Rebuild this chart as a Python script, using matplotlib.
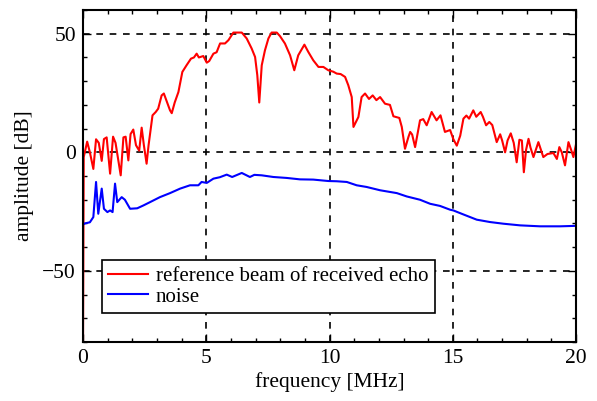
# Echo spectrum vs noise floor
import matplotlib
matplotlib.use('Agg')
import matplotlib.pyplot as plt
from matplotlib.ticker import MultipleLocator

# reference beam of received echo (frequency in MHz, amplitude in dB)
echo_freq = [0.0, 0.03, 0.17, 0.28, 0.42, 0.53, 0.64, 0.76, 0.85, 0.96, 1.1, 1.22, 1.32,
             1.53, 1.64, 1.73, 1.84, 1.93, 2.04, 2.15, 2.28, 2.38, 2.47, 2.58, 2.66, 2.82,
             2.95, 3.05, 3.19, 3.28, 3.38, 3.53, 3.6, 3.72, 3.87, 4.03, 4.2, 4.38, 4.5,
             4.61, 4.7, 4.88, 5.02, 5.12, 5.29, 5.42, 5.56, 5.76, 5.9, 6.1, 6.25, 6.44,
             6.64, 6.84, 6.98, 7.07, 7.15, 7.25, 7.38, 7.52, 7.65, 7.86, 7.99, 8.19, 8.4,
             8.57, 8.73, 8.98, 9.14, 9.34, 9.55, 9.75, 9.95, 10.15, 10.29, 10.45, 10.63,
             10.76, 10.9, 10.97, 11.17, 11.3, 11.44, 11.6, 11.75, 11.9, 12.05, 12.25,
             12.45, 12.59, 12.83, 12.93, 13.06, 13.2, 13.27, 13.35, 13.47, 13.67, 13.8,
             13.94, 14.14, 14.34, 14.5, 14.68, 14.89, 15.02, 15.16, 15.3, 15.43, 15.55,
             15.66, 15.83, 15.95, 16.13, 16.22, 16.35, 16.48, 16.6, 16.78, 16.92, 17.0,
             17.12, 17.22, 17.35, 17.47, 17.59, 17.7, 17.8, 17.88, 17.97, 18.07, 18.15,
             18.27, 18.47, 18.67, 18.84, 19.08, 19.22, 19.32, 19.42, 19.55, 19.69, 19.8,
             19.89, 20.0]
echo_db = [-85, -2, 4.5, 0, -7, 5.5, 4, -3.6, 5.6, 6.3, -9, 6.6, 4,
           -9.7, 6.3, 6.6, -3.4, 7.7, 9.6, 3, 0.7, 10.4, 3, -4.8, 3, 15.6,
           17, 18.4, 24, 24.8, 22, 17.7, 16.5, 21, 25.4, 33.9, 36.7, 39.5, 40,
           41.6, 40, 40.6, 37.8, 38.5, 41.6, 42.2, 45.9, 45.9, 47.3, 50.5, 50.5, 50.5,
           48, 43.8, 40.2, 32.5, 21, 36.7, 43, 48, 50.5, 50.5, 49, 45.9, 40.9,
           34.6, 40.9, 45.4, 42.3, 38.8, 36, 36, 34.6, 34, 33.2, 33, 31.8,
           28.3, 23.3, 10.7, 14.9, 23.3, 24.8, 22.5, 24, 22, 23.3, 20.5,
           20, 15.2, 14.5, 10.7, 1.5, 6.5, 8.6, 7.5, 2.2, 13.5, 14,
           11.4, 17, 13.5, 15.6, 8.6, 9.4, 5.6, 2.8, 7, 14.2, 15.5,
           14.2, 17.7, 15, 17, 15, 11.4, 12.8, 11.5, 4.3, 7.6, 5,
           0, 5, 8, 4, -4.2, 5.3, 5, -8.4, 1, 5.7, 2,
           -2, 4.3, -2, -0.7, -0.3, -2.8, 2.2, 0, -5.5, 4.3, 1,
           -2, 3.6]

# noise
noise_freq = [0.0, 0.07, 0.28, 0.42, 0.53, 0.62, 0.76, 0.85, 0.99, 1.1, 1.2, 1.3, 1.39,
              1.57, 1.7, 1.91, 2.2, 2.45, 2.72, 3.12, 3.53, 3.94, 4.34, 4.68, 4.81, 5.02,
              5.29, 5.55, 5.83, 6.05, 6.44, 6.77, 6.95, 7.25, 7.72, 8.26, 8.8, 9.34, 9.95,
              10.29, 10.7, 11.1, 11.5, 12.05, 12.73, 13.13, 13.67, 14.08, 14.48, 14.89,
              15.02, 15.43, 15.97, 16.51, 17.05, 17.73, 18.54, 19.35, 20.0]
noise_db = [-30.5, -30, -29.5, -27.3, -12.5, -25.9, -15.3, -23.8, -25.2, -24.5, -25.2, -13.2, -21,
            -18.9, -20, -23.8, -23.6, -22.4, -21, -18.9, -17.2, -15.3, -13.9, -13.9, -12.5, -12.9,
            -11.1, -10.5, -9.4, -10.4, -8.7, -10.4, -9.5, -9.7, -10.4, -10.8, -11.4, -11.5, -12.1,
            -12.2, -12.5, -13.9, -14.6, -16, -17.2, -18.6, -20, -21.7, -22.6, -24.2,
            -24.5, -26.2, -28.4, -29.4, -30.1, -30.8, -31.2, -31.2, -31.0]

plt.rcParams['font.family'] = ['Liberation Serif', 'DejaVu Serif']
plt.rcParams['font.size'] = 15

fig = plt.figure(figsize=(5.97, 4.01), dpi=100)
ax = fig.add_axes([0.139, 0.147, 0.826, 0.828])

ax.plot(echo_freq, echo_db, color='red', lw=1.5, label='reference beam of received echo')
ax.plot(noise_freq, noise_db, color='blue', lw=1.5, label='noise')

ax.set_xlim(0, 20)
ax.set_ylim(-80, 60)
ax.xaxis.set_major_locator(MultipleLocator(5))
ax.xaxis.set_minor_locator(MultipleLocator(1))
ax.yaxis.set_major_locator(MultipleLocator(50))
ax.yaxis.set_minor_locator(MultipleLocator(10))
ax.tick_params(which='both', direction='in', top=True, right=True, width=1)
ax.tick_params(which='major', length=6, labelsize=15.5, pad=5)
ax.tick_params(which='minor', length=3)
ax.grid(True, which='major', color='black', linestyle=(0, (4, 4)), linewidth=1.2)
for s in ax.spines.values():
    s.set_linewidth(1.5)

ax.set_xlabel('frequency [MHz]', fontsize=15.5, labelpad=3)
ax.set_ylabel('amplitude [dB]', fontsize=15.5, labelpad=6)

leg = ax.legend(loc='lower left', bbox_to_anchor=(0.038, 0.088), fancybox=False,
                edgecolor='black', framealpha=1, fontsize=15, handlelength=1.9,
                handletextpad=0.4, borderpad=0.3, labelspacing=0.05, borderaxespad=0)
leg.get_frame().set_linewidth(1.2)

fig.savefig('out.png', dpi=100)
